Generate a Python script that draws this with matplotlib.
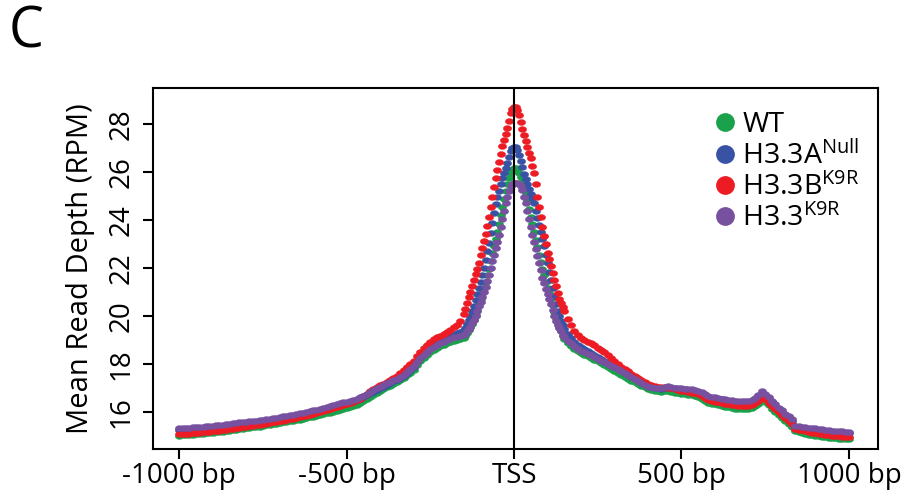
import numpy as np
import matplotlib
matplotlib.use("Agg")
import matplotlib.pyplot as plt
from matplotlib.path import Path
from matplotlib.lines import Line2D

plt.rcParams['font.family'] = ['Open Sans', 'DejaVu Sans']
plt.rcParams['mathtext.fontset'] = 'custom'
plt.rcParams['mathtext.rm'] = 'Open Sans'
plt.rcParams['mathtext.it'] = 'Open Sans:italic'
plt.rcParams['mathtext.bf'] = 'Open Sans:bold'

# ---- positions (bp relative to TSS) ----
pos = np.concatenate([np.arange(-1000, -299, 10), np.arange(-290, -149, 10),
                      np.arange(-145, 146, 5), np.arange(150, 291, 10),
                      np.arange(300, 1001, 10)])

series_names = ['WT', 'H3.3A$^{\\mathrm{Null}}$', 'H3.3B$^{\\mathrm{K9R}}$', 'H3.3$^{\\mathrm{K9R}}$']
series_colors = ['#1AA14B', '#3953A4', '#ED1C24', '#7850A0']

wt = [
    # -1000 .. -300 step 10
    15.00, 15.01, 15.02, 15.03, 15.04, 15.05, 15.06, 15.07, 15.09, 15.10,
    15.12, 15.13, 15.15, 15.16, 15.18, 15.20, 15.22, 15.24, 15.26, 15.28,
    15.30, 15.32, 15.34, 15.36, 15.38, 15.40, 15.43, 15.45, 15.48, 15.50,
    15.52, 15.55, 15.57, 15.60, 15.62, 15.65, 15.67, 15.70, 15.73, 15.76,
    15.79, 15.82, 15.86, 15.89, 15.93, 15.96, 16.00, 16.03, 16.07, 16.11,
    16.15, 16.19, 16.23, 16.29, 16.35, 16.43, 16.52, 16.61, 16.70, 16.78,
    16.86, 16.93, 17.01, 17.09, 17.17, 17.25, 17.33, 17.42, 17.52, 17.63,
    17.74,
    # -290 .. -150 step 10
    17.95, 18.10, 18.24, 18.37, 18.49, 18.59, 18.67, 18.74, 18.80, 18.86, 18.91, 18.96, 19.00, 19.04, 19.08,
    # -145 .. 145 step 5
    19.15, 19.28, 19.40, 19.52, 19.68, 19.85, 20.03, 20.25, 20.48, 20.72, 20.95, 21.18, 21.42, 21.70, 21.98,
    22.30, 22.63, 22.90, 23.20, 23.50, 23.85, 24.20, 24.55, 24.90, 25.22, 25.52, 25.78, 25.98, 26.10,
    26.16,
    26.16, 26.10, 25.98, 25.82, 25.60, 25.35, 25.08, 24.80, 24.48, 24.15, 23.83, 23.50, 23.18, 22.88, 22.55,
    22.25, 21.95, 21.70, 21.43, 21.18, 20.95, 20.72, 20.45, 20.18, 19.92, 19.72, 19.52, 19.35, 19.18,
    # 150 .. 290 step 10
    19.02, 18.88, 18.75, 18.63, 18.53, 18.45, 18.38, 18.31, 18.24, 18.17, 18.10, 18.02, 17.94, 17.86, 17.78,
    # 300 .. 1000 step 10
    17.70, 17.63, 17.55, 17.46, 17.38, 17.30, 17.22, 17.15, 17.08, 17.01,
    16.95, 16.91, 16.88, 16.86, 16.84, 16.85, 16.86, 16.83, 16.80, 16.77,
    16.75, 16.72, 16.70, 16.68, 16.66, 16.61, 16.55, 16.46, 16.38, 16.34,
    16.30, 16.27, 16.24, 16.21, 16.18, 16.15, 16.13, 16.11, 16.10, 16.10,
    16.12, 16.16, 16.22, 16.32, 16.47, 16.39, 16.27, 16.12, 15.98, 15.85,
    15.72, 15.60, 15.47, 15.35, 15.18, 15.14, 15.10, 15.07, 15.04, 15.01,
    14.99, 14.97, 14.95, 14.93, 14.92, 14.90, 14.89, 14.87, 14.86, 14.85,
    14.84,
]

h33a_null = [
    15.24, 15.25, 15.26, 15.27, 15.28, 15.29, 15.30, 15.31, 15.33, 15.34,
    15.36, 15.37, 15.39, 15.40, 15.42, 15.43, 15.45, 15.47, 15.49, 15.50,
    15.52, 15.53, 15.55, 15.57, 15.59, 15.61, 15.63, 15.65, 15.67, 15.69,
    15.72, 15.74, 15.77, 15.79, 15.82, 15.84, 15.87, 15.90, 15.93, 15.96,
    16.00, 16.03, 16.07, 16.10, 16.14, 16.18, 16.22, 16.26, 16.30, 16.33,
    16.36, 16.39, 16.44, 16.47, 16.54, 16.61, 16.69, 16.76, 16.84, 16.92,
    16.99, 17.05, 17.12, 17.19, 17.27, 17.33, 17.41, 17.51, 17.62, 17.75,
    17.88,
    18.12, 18.28, 18.43, 18.56, 18.68, 18.79, 18.88, 18.95, 19.02, 19.09, 19.15, 19.21, 19.27, 19.33, 19.40,
    19.50, 19.65, 19.82, 20.00, 20.20, 20.42, 20.65, 20.90, 21.15, 21.42, 21.70, 22.00, 22.35, 22.70, 23.05,
    23.45, 23.88, 24.28, 24.67, 24.95, 25.23, 25.50, 25.75, 25.95, 26.17, 26.38, 26.62, 26.88, 27.02,
    27.07,
    27.05, 26.92, 26.72, 26.48, 26.20, 25.92, 25.70, 25.52, 25.30, 25.08, 24.92, 24.72, 24.38, 24.10, 23.80,
    23.50, 23.20, 22.90, 22.55, 22.20, 21.85, 21.50, 21.15, 20.82, 20.50, 20.22, 19.98, 19.78, 19.60,
    19.45, 19.25, 19.08, 18.93, 18.80, 18.70, 18.60, 18.52, 18.44, 18.36, 18.28, 18.20, 18.12, 18.04, 17.96,
    17.88, 17.80, 17.72, 17.63, 17.54, 17.45, 17.37, 17.29, 17.22, 17.14,
    17.07, 17.03, 17.00, 16.98, 16.96, 17.00, 17.02, 16.99, 16.97, 16.95,
    16.94, 16.93, 16.91, 16.90, 16.88, 16.84, 16.78, 16.68, 16.61, 16.58,
    16.56, 16.53, 16.51, 16.48, 16.46, 16.44, 16.42, 16.40, 16.39, 16.39,
    16.41, 16.46, 16.54, 16.66, 16.80, 16.70, 16.55, 16.40, 16.25, 16.12,
    16.00, 15.87, 15.75, 15.63, 15.38, 15.36, 15.33, 15.31, 15.28, 15.26,
    15.25, 15.23, 15.21, 15.19, 15.18, 15.16, 15.15, 15.14, 15.13, 15.11,
    15.10,
]

h33b_k9r = [
    15.05, 15.06, 15.07, 15.08, 15.10, 15.11, 15.12, 15.14, 15.15, 15.17,
    15.18, 15.20, 15.21, 15.23, 15.25, 15.27, 15.29, 15.31, 15.33, 15.35,
    15.37, 15.39, 15.41, 15.43, 15.45, 15.48, 15.50, 15.53, 15.55, 15.58,
    15.60, 15.62, 15.65, 15.68, 15.71, 15.74, 15.77, 15.80, 15.83, 15.87,
    15.90, 15.94, 15.98, 16.02, 16.06, 16.10, 16.14, 16.18, 16.22, 16.26,
    16.30, 16.35, 16.40, 16.47, 16.55, 16.65, 16.75, 16.85, 16.95, 17.03,
    17.10, 17.17, 17.25, 17.33, 17.42, 17.50, 17.60, 17.72, 17.85, 17.98,
    18.12,
    18.32, 18.50, 18.65, 18.80, 18.92, 19.02, 19.10, 19.17, 19.25, 19.33, 19.42, 19.52, 19.62, 19.80, 20.08,
    20.30, 20.55, 20.80, 21.00, 21.25, 21.50, 21.75, 21.95, 22.20, 22.55, 22.85, 23.15, 23.42, 23.75, 24.15,
    24.55, 24.95, 25.38, 25.77, 26.10, 26.45, 26.78, 27.10, 27.35, 27.60, 27.85, 28.15, 28.47, 28.65,
    28.72,
    28.72, 28.62, 28.40, 28.10, 27.80, 27.55, 27.30, 27.05, 26.80, 26.60, 26.28, 25.95, 25.50, 24.95, 24.55,
    24.12, 23.70, 23.35, 23.00, 22.64, 22.36, 22.08, 21.80, 21.52, 21.24, 20.96, 20.70, 20.52, 20.38,
    20.22, 19.88, 19.62, 19.38, 19.20, 19.08, 18.98, 18.92, 18.87, 18.78, 18.68, 18.58, 18.48, 18.37, 18.25,
    18.10, 17.99, 17.88, 17.78, 17.68, 17.59, 17.50, 17.41, 17.33, 17.24,
    17.15, 17.11, 17.07, 17.04, 17.02, 17.01, 17.00, 16.98, 16.95, 16.91,
    16.88, 16.85, 16.83, 16.80, 16.78, 16.72, 16.65, 16.56, 16.48, 16.45,
    16.42, 16.40, 16.37, 16.34, 16.32, 16.29, 16.27, 16.25, 16.24, 16.24,
    16.25, 16.29, 16.35, 16.45, 16.60, 16.52, 16.38, 16.24, 16.10, 15.97,
    15.85, 15.72, 15.60, 15.48, 15.28, 15.25, 15.22, 15.18, 15.15, 15.12,
    15.10, 15.08, 15.06, 15.04, 15.02, 15.00, 14.99, 14.97, 14.96, 14.94,
    14.93,
]

h33_k9r = [
    15.30, 15.31, 15.32, 15.33, 15.34, 15.35, 15.36, 15.37, 15.39, 15.40,
    15.42, 15.43, 15.45, 15.46, 15.48, 15.49, 15.51, 15.53, 15.55, 15.56,
    15.58, 15.59, 15.61, 15.63, 15.65, 15.67, 15.69, 15.71, 15.73, 15.75,
    15.78, 15.80, 15.83, 15.85, 15.88, 15.90, 15.93, 15.96, 15.99, 16.02,
    16.06, 16.09, 16.13, 16.16, 16.20, 16.24, 16.28, 16.32, 16.36, 16.39,
    16.42, 16.45, 16.50, 16.53, 16.60, 16.67, 16.75, 16.82, 16.90, 16.98,
    17.05, 17.11, 17.18, 17.25, 17.32, 17.38, 17.45, 17.55, 17.65, 17.77,
    17.90,
    18.08, 18.24, 18.38, 18.50, 18.62, 18.72, 18.80, 18.86, 18.93, 19.00, 19.05, 19.10, 19.14, 19.18, 19.20,
    19.25, 19.35, 19.45, 19.55, 19.70, 19.85, 20.00, 20.20, 20.40, 20.60, 20.80, 21.00, 21.20, 21.45, 21.72,
    22.00, 22.30, 22.55, 22.82, 23.10, 23.40, 23.72, 24.05, 24.40, 24.70, 24.98, 25.22, 25.42, 25.52,
    25.55,
    25.56, 25.55, 25.52, 25.42, 25.25, 24.98, 24.70, 24.40, 24.05, 23.72, 23.40, 23.10, 22.80, 22.50, 22.20,
    21.90, 21.60, 21.38, 21.12, 20.90, 20.70, 20.50, 20.25, 20.00, 19.78, 19.62, 19.48, 19.35, 19.22,
    19.10, 18.97, 18.85, 18.73, 18.63, 18.55, 18.48, 18.42, 18.35, 18.28, 18.20, 18.13, 18.06, 17.98, 17.92,
    17.85, 17.78, 17.70, 17.61, 17.52, 17.43, 17.35, 17.27, 17.20, 17.12,
    17.05, 17.02, 17.00, 16.99, 16.98, 17.04, 17.06, 17.03, 17.00, 16.98,
    16.97, 16.96, 16.95, 16.94, 16.92, 16.88, 16.82, 16.72, 16.65, 16.62,
    16.60, 16.57, 16.55, 16.52, 16.50, 16.48, 16.46, 16.44, 16.43, 16.43,
    16.45, 16.50, 16.58, 16.70, 16.85, 16.75, 16.60, 16.45, 16.30, 16.17,
    16.05, 15.92, 15.80, 15.68, 15.42, 15.40, 15.38, 15.35, 15.33, 15.31,
    15.30, 15.28, 15.26, 15.24, 15.23, 15.21, 15.20, 15.19, 15.18, 15.17,
    15.16,
]

xtick_vals = [-1000, -500, 0, 500, 1000]
xtick_labels = ['-1000 bp', '-500 bp', 'TSS', '500 bp', '1000 bp']
ytick_vals = [16, 18, 20, 22, 24, 26, 28]

all_series = [wt, h33a_null, h33b_k9r, h33_k9r]
for s in all_series:
    assert len(s) == len(pos), (len(s), len(pos))

# ellipse marker (slightly wider than tall)
t = np.linspace(0, 2 * np.pi, 40)
ell = Path(np.column_stack([np.cos(t), 0.7 * np.sin(t)]), closed=True)

fig = plt.figure(figsize=(9.11, 4.95), dpi=100)
ax = fig.add_axes([0.168, 0.0929, 0.7958, 0.7293])

for vals, col in zip(all_series, series_colors):
    ax.plot(pos, vals, linestyle='none', marker=ell, markersize=6.0,
            markerfacecolor=col, markeredgecolor=col, markeredgewidth=0.3)

ax.axvline(0, color='black', lw=1.5, zorder=10)

ax.set_xlim(-1078, 1087)
ax.set_ylim(14.44, 29.52)
ax.set_xticks(xtick_vals)
ax.set_xticklabels(xtick_labels, fontsize=20)
ax.set_yticks(ytick_vals)
ax.set_yticklabels([str(v) for v in ytick_vals], fontsize=20, rotation=90, va='center')
ax.tick_params(axis='both', direction='out', length=7.5, width=1.5, color='black')
ax.tick_params(axis='x', pad=2)
ax.tick_params(axis='y', pad=5)
for sp in ax.spines.values():
    sp.set_linewidth(1.5)
ax.set_ylabel('Mean Read Depth (RPM)', fontsize=21, labelpad=9)

handles = [Line2D([], [], linestyle='none', marker='o', markersize=12.5,
                  markerfacecolor=c, markeredgecolor=c) for c in series_colors]
leg = ax.legend(handles, series_names, loc='upper left', bbox_to_anchor=(0.762, 0.968),
                frameon=False, fontsize=20.5, handlelength=0.6, handletextpad=0.3,
                labelspacing=0.08, borderaxespad=0)

fig.text(0.009, 0.99, 'C', fontsize=40, va='top', ha='left')

fig.savefig('out.png', dpi=100)
